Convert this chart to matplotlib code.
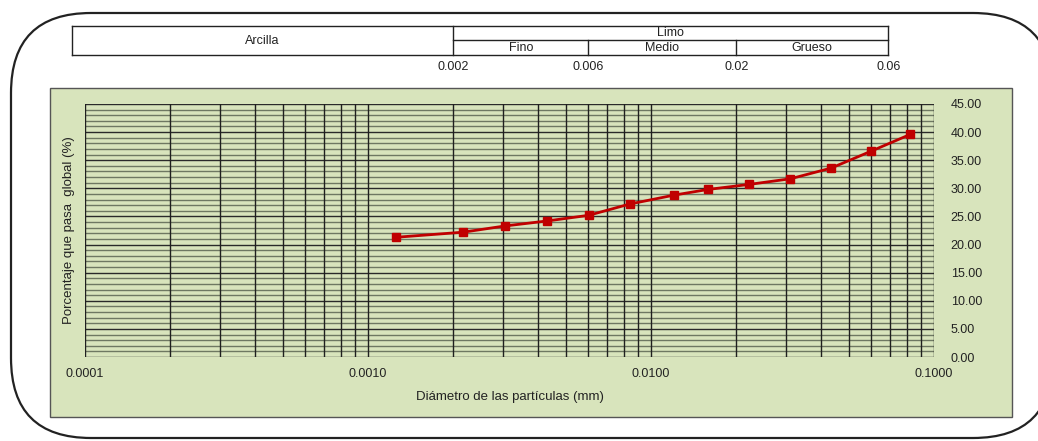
import numpy as np
import matplotlib
matplotlib.use("Agg")
import matplotlib.pyplot as plt
from matplotlib.patches import FancyBboxPatch, Rectangle
from matplotlib.ticker import FixedLocator, FuncFormatter, LogLocator, NullFormatter

plt.rcParams["font.family"] = ["Liberation Sans", "DejaVu Sans"]

# ========================================================
# Data
# ========================================================
diametro = [0.00126, 0.00217, 0.00304, 0.00430, 0.00602, 0.00840, 0.01209,
            0.0159, 0.02225, 0.0311, 0.0433, 0.0599, 0.0825]
pasa = [21.3, 22.2, 23.3, 24.2, 25.2, 27.2, 28.8,
        29.8, 30.7, 31.7, 33.6, 36.6, 39.6]

# header zones (soil classes): edges in mm
zone_edges = [0.00009, 0.002, 0.006, 0.02, 0.069]
zone_edge_labels = ["0.002", "0.006", "0.02", "0.06"]
limo_sub = ["Fino", "Medio", "Grueso"]

x_ticks = [0.0001, 0.001, 0.01, 0.1]
y_ticks = [0, 5, 10, 15, 20, 25, 30, 35, 40, 45]

W, H = 1038, 441
fig = plt.figure(figsize=(W / 100, H / 100), dpi=100)
fig.patch.set_facecolor("white")

# ========================================================
# Background: rounded frame and green panel (pixel coords)
# ========================================================
bg = fig.add_axes([0, 0, 1, 1], zorder=0)
bg.set_xlim(0, W)
bg.set_ylim(H, 0)
bg.axis("off")
bg.add_patch(FancyBboxPatch((11, 13), 1042, 425,
                            boxstyle="round,pad=0,rounding_size=80",
                            fc="white", ec="#222222", lw=1.6))
bg.add_patch(Rectangle((50, 88), 962, 329, fc="#d8e4bc", ec="#555555", lw=1))


def px(x0, y0, x1, y1):
    # pixel box (top-left origin) -> figure fraction rect
    return [x0 / W, 1 - y1 / H, (x1 - x0) / W, (y1 - y0) / H]


# ========================================================
# Main grain size plot
# ========================================================
ax = fig.add_axes(px(85, 104, 934, 357), zorder=2)
ax.set_facecolor("none")
ax.set_xscale("log")
ax.set_xlim(1e-4, 1e-1)
ax.set_ylim(0, 45)

for yv in np.arange(0, 46, 1):
    c = "#2a2a2a" if yv % 5 == 0 else "#6e7862"
    ax.axhline(yv, color=c, lw=1.0, zorder=1)
for dec in [1e-4, 1e-3, 1e-2]:
    for m in range(1, 10):
        ax.axvline(dec * m, color="#1f1f1f", lw=1.0, zorder=1)
ax.axvline(0.1, color="#1f1f1f", lw=1.0, zorder=1)

ax.plot(diametro, pasa, color="#c00000", lw=2, marker="s", ms=6,
        mfc="#c00000", mec="#c00000", zorder=3)

ax.xaxis.set_major_locator(FixedLocator(x_ticks))
ax.xaxis.set_minor_locator(LogLocator(base=10, subs=np.arange(2, 10)))
ax.xaxis.set_minor_formatter(NullFormatter())
ax.xaxis.set_major_formatter(FuncFormatter(lambda v, p: f"{v:.4f}"))
ax.yaxis.set_major_locator(FixedLocator(y_ticks))
ax.yaxis.set_major_formatter(FuncFormatter(lambda v, p: f"{v:.2f}"))
ax.yaxis.tick_right()
ax.tick_params(axis="both", which="both", length=0, labelsize=9, colors="#222222")
ax.tick_params(axis="x", pad=8)
ax.tick_params(axis="y", pad=12)
for s in ax.spines.values():
    s.set_visible(False)

ax.set_xlabel("Diámetro de las partículas (mm)", fontsize=9.5, color="#222222", labelpad=8)
ax.set_ylabel("Porcentaje que pasa  global (%)", fontsize=9.5, color="#222222", labelpad=7)

# ========================================================
# Header table (Arcilla / Limo)
# ========================================================
hx = fig.add_axes(px(85, 26, 934, 55), zorder=2)
hx.set_xscale("log")
hx.set_xlim(1e-4, 1e-1)
hx.set_ylim(0, 2)
hx.axis("off")
lk = dict(color="#222222", lw=1, clip_on=False)
left, right = zone_edges[0], zone_edges[-1]
hx.plot([left, right], [0, 0], **lk)
hx.plot([left, right], [2, 2], **lk)
hx.plot([zone_edges[1], right], [1, 1], **lk)
hx.plot([left, left], [0, 2], **lk)
hx.plot([zone_edges[1], zone_edges[1]], [0, 2], **lk)
hx.plot([right, right], [0, 2], **lk)
for e in zone_edges[2:-1]:
    hx.plot([e, e], [0, 1], **lk)

gm = lambda a, b: np.sqrt(a * b)
tk = dict(fontsize=9, color="#222222", ha="center", va="center", clip_on=False)
hx.text(gm(zone_edges[0], zone_edges[1]), 1.0, "Arcilla", **tk)
hx.text(gm(zone_edges[1], right), 1.5, "Limo", **tk)
for i, name in enumerate(limo_sub):
    hx.text(gm(zone_edges[i + 1], zone_edges[i + 2]), 0.5, name, **tk)
for e, lab in zip(zone_edges[1:], zone_edge_labels):
    hx.text(e, -0.8, lab, **tk)

fig.savefig("out.png", dpi=100)
